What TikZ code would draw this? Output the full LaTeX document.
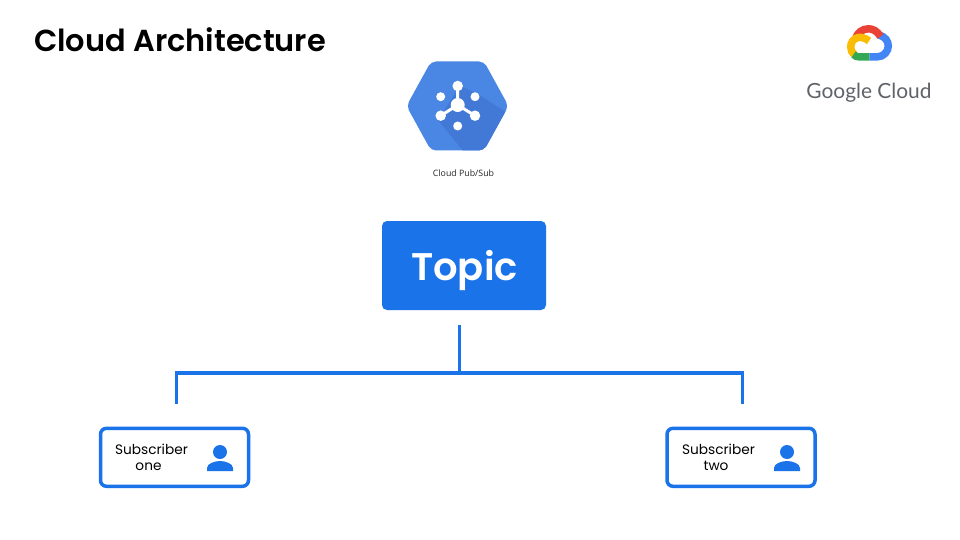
\documentclass[tikz,border=0pt]{standalone}
\usepackage{fontspec}
\setmainfont{Poppins}
\newfontfamily\headfont{Poppins SemiBold}
\newfontfamily\logofont{Open Sans}
\newfontfamily\brandfont{Lato}
\usetikzlibrary{calc}
\definecolor{gblue}{HTML}{1A73E8}
\definecolor{hexblue}{HTML}{4A86E3}
\definecolor{hexdark}{HTML}{4279D6}
\definecolor{lgray}{HTML}{5F6368}
\definecolor{lred}{HTML}{EA4335}
\definecolor{lblue}{HTML}{4285F4}
\definecolor{lgreen}{HTML}{34A853}
\definecolor{lyellow}{HTML}{FBBC04}
\tikzset{
  subbox/.style={draw=gblue,line width=3.5pt,rounded corners=6pt,minimum width=148pt,minimum height=58pt,fill=white,inner sep=0pt},
  sublabel/.style={font=\fontsize{13.7}{16}\selectfont,align=center,text=black,inner sep=0pt},
  wire/.style={draw=gblue,line width=3.5pt},
  logostroke/.style={line width=7.5pt,line cap=butt},
  icondot/.style={circle,fill=white,inner sep=0pt,minimum size=#1},
  person/.style={fill=gblue,draw=none}
}
\begin{document}
\begin{tikzpicture}[x=1pt,y=-1pt]
\useasboundingbox (0,0) rectangle (960,540);
\fill[white] (0,0) rectangle (960,540);
% title
\node[anchor=west,inner sep=0pt,font=\fontsize{30.4}{33}\selectfont\headfont] (title) at (34,40) {Cloud Architecture};
% hexagon
\path[rounded corners=5pt,fill=hexblue] (406.5,106) -- (431,61.5) -- (484,61.5) -- (508.5,106) -- (484,150.5) -- (431,150.5) -- cycle;
\begin{scope}
\clip[rounded corners=5pt] (406.5,106) -- (431,61.5) -- (484,61.5) -- (508.5,106) -- (484,150.5) -- (431,150.5) -- cycle;
\fill[hexdark] (460,86) -- (478,94) -- (510,115) -- (510,152) -- (464,152) -- (438,120) -- cycle;
\end{scope}
\draw[white,line width=3pt] (457.7,105) -- (457.7,86) (457.7,105) -- (440.7,115.7) (457.7,105) -- (475,115.7);
\node[icondot=14pt] (hc) at (457.7,105) {};
\node[icondot=10.5pt] (ht) at (457.7,86) {};
\node[icondot=10.5pt] (hl) at (440.7,115.7) {};
\node[icondot=10.5pt] (hr) at (475,115.7) {};
\node[icondot=9pt] (hul) at (440.7,96.7) {};
\node[icondot=9pt] (hur) at (475,96.7) {};
\node[icondot=9pt] (hb) at (457.7,126) {};
\node[font=\fontsize{8.8}{10}\selectfont\logofont,text=black!85,inner sep=0pt] (pubsub) at (463.5,173) {Cloud Pub/Sub};
% logo
\draw[logostroke,lblue] (869.3,56.9) -- (877,56.9) .. controls (884,56.9) and (888.3,51) .. (888.3,46) .. controls (888.3,41) and (885,36.5) .. (879,35);
\draw[logostroke,lred] (880.5,36.5) .. controls (877,31) and (873,28.8) .. (868.5,28.8) .. controls (862,28.8) and (857,33) .. (855.5,39);
\draw[logostroke,lyellow] (869,41) .. controls (865,37.5) and (860,37) .. (858,37.5) .. controls (853,38.5) and (850.7,43) .. (850.7,47) .. controls (850.7,50) and (852,53) .. (855,55);
\draw[logostroke,lgreen] (853.5,54.5) .. controls (855,56) and (857,56.9) .. (859,56.9) -- (869.3,56.9);
\node[anchor=center,inner sep=0pt,font=\fontsize{20.9}{24}\selectfont\brandfont,text=lgray] (gc) at (869,92.3) {Google Cloud};
% topic
\node[fill=gblue,rounded corners=5pt,minimum width=164pt,minimum height=89pt,inner sep=0pt] (topic) at (464,265.5) {};
\node[text=white,inner sep=0pt,font=\fontsize{38.5}{44}\selectfont\headfont] (topictext) at (464.5,270) {Topic};
% connectors
\coordinate (trunktop) at (459.3,325);
\coordinate (trunkbot) at (459.3,373);
\coordinate (dropl) at (176.3,404);
\coordinate (dropr) at (742.5,404);
\draw[wire] (trunktop) -- (trunkbot);
\draw[wire,line cap=butt] (dropl) -- (dropl |- trunkbot) -- (dropr |- trunkbot) -- (dropr);
% subscribers
\node[subbox] (s1) at (174.5,457.3) {};
\node[subbox] (s2) at (741,457.3) {};
\node[sublabel] (l1) at (151.5,457.7) {Subscriber\\one\rule{6pt}{0pt}};
\node[sublabel] (l2) at (718.5,457.7) {Subscriber\\two\rule{5pt}{0pt}};
% person icons
\node[circle,person,inner sep=0pt,minimum size=14pt] (h1) at (220,452) {};
\fill[gblue] (207,471) -- (207,468) .. controls (207,463.5) and (215,461) .. (220,461) .. controls (225,461) and (233,463.5) .. (233,468) -- (233,471) -- cycle;
\node[circle,person,inner sep=0pt,minimum size=14pt] (h2) at (787,452) {};
\fill[gblue] (774,471) -- (774,468) .. controls (774,463.5) and (782,461) .. (787,461) .. controls (792,461) and (800,463.5) .. (800,468) -- (800,471) -- cycle;
\end{tikzpicture}
\end{document}
